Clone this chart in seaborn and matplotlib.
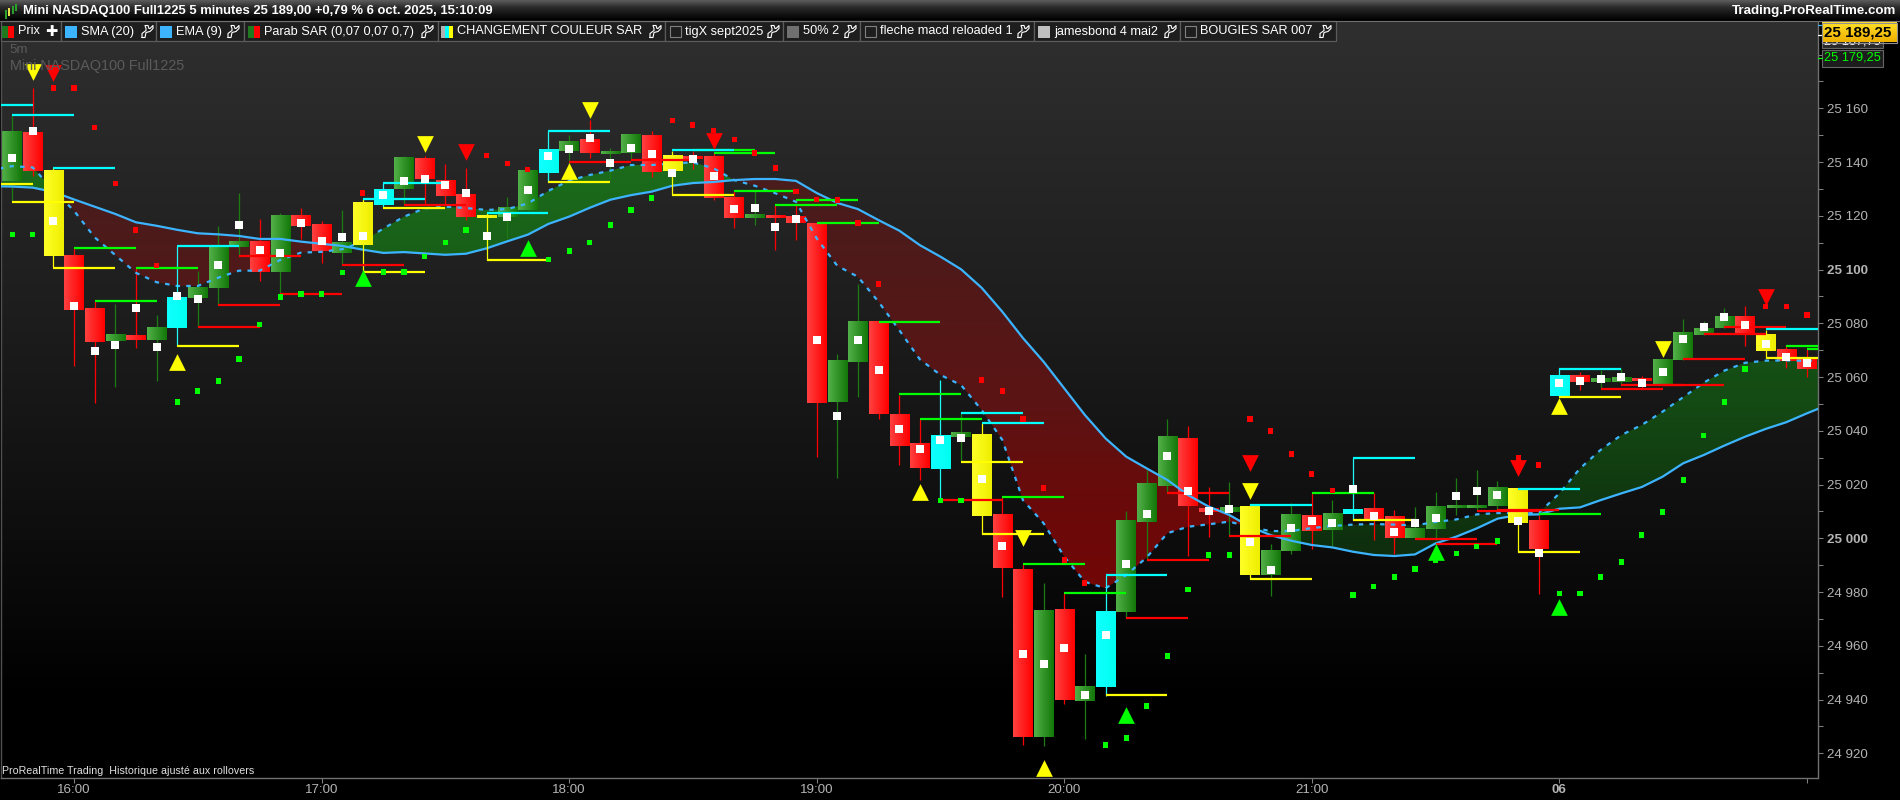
import numpy as np
import pandas as pd
import matplotlib
matplotlib.use("Agg")
import matplotlib.pyplot as plt
import seaborn as sns
from matplotlib.colors import LinearSegmentedColormap, to_rgb
from matplotlib.path import Path
from matplotlib.patches import Rectangle
from matplotlib.ticker import FixedLocator, FixedFormatter

# ---------- data (prices; x = 5-minute bars, 0 = 16:00) ----------
first_bar = -3
kinds = list("gry" "rrgrgcgggr" "grrgycgrrr" "yggcgrggry" "rrrgrrrggr"
             "rrcgyrrgrg" "cgggrrgygg" "rgcrrggggg" "yrcrggrggg" "gryrr")
body_top = [25151.2, 25151.2, 25137.05,
    25105.3, 25085.3, 25075.65, 25075.65, 25078.6, 25089.8, 25093.4, 25108.8, 25110.3, 25110.3,
    25119.95, 25119.95, 25116.6, 25109.9, 25125.15, 25130.0, 25141.9, 25141.15, 25133.3, 25127.75,
    25120.3, 25122.9, 25136.7, 25144.75, 25147.8, 25148.2, 25143.9, 25150.05, 25150.05, 25142.6,
    25141.9, 25142.25, 25126.65, 25120.65, 25119.95, 25119.55, 25117.3, 25066.0, 25080.85, 25080.5,
    25046.25, 25035.1, 25038.3, 25039.55, 25038.8, 25009.05, 24988.6, 24973.3, 24973.7, 24944.8,
    24972.9, 25006.45, 25020.2, 25038.05, 25037.3, 25011.25, 25011.65, 25012.0, 24995.65, 25008.65,
    25008.3, 25009.4, 25010.9, 25010.9, 25008.0, 25003.45, 25011.65, 25011.9, 25012.0, 25018.7,
    25018.35, 25006.45, 25060.4, 25060.75, 25059.3, 25060.0, 25059.65, 25066.35, 25076.75, 25077.9,
    25082.35, 25082.7, 25076.0, 25070.45, 25066.35]
body_bot = [25132.95, 25136.7, 25105.2,
    25085.0, 25073.0, 25073.4, 25073.8, 25073.8, 25078.35, 25089.4, 25093.1, 25108.4, 25099.1,
    25099.1, 25116.2, 25106.9, 25106.15, 25109.15, 25124.05, 25130.0, 25133.7, 25127.4, 25119.55,
    25119.35, 25119.55, 25122.15, 25136.0, 25144.1, 25143.35, 25143.15, 25143.35, 25136.3, 25136.7,
    25141.15, 25126.65, 25119.2, 25119.2, 25119.2, 25117.3, 25050.35, 25050.7, 25065.6, 25046.25,
    25034.35, 25026.15, 25025.9, 25037.7, 25008.3, 24989.0, 24926.1, 24926.1, 24939.85, 24939.45,
    24944.8, 24972.55, 25006.05, 25019.5, 25012.0, 25009.8, 25009.8, 24986.35, 24986.35, 24995.25,
    25002.7, 25003.1, 25009.05, 25006.8, 25000.1, 25000.1, 25003.45, 25011.15, 25011.25, 25012.0,
    25005.6, 24996.0, 25052.95, 25058.15, 25058.15, 25058.15, 25058.55, 25057.0, 25066.35, 25075.65,
    25078.25, 25076.4, 25069.7, 25066.0, 25063.0]
wick_high = [25157.5, 25167.55, 25137.8,
    25108.0, 25088.4, 25087.2, 25100.7, 25083.1, 25108.8, 25099.45, 25116.2, 25128.4, 25118.8,
    25120.9, 25122.9, 25118.1, 25122.15, 25126.35, 25132.3, 25142.3, 25142.3, 25139.3, 25137.8,
    25121.05, 25127.0, 25136.7, 25151.65, 25150.05, 25155.65, 25145.1, 25150.05, 25151.55, 25144.2,
    25144.2, 25143.75, 25129.2, 25129.2, 25124.05, 25124.05, 25117.3, 25068.6, 25094.6, 25080.5,
    25053.3, 25044.4, 25058.9, 25046.6, 25042.9, 25015.35, 24990.45, 24983.3, 24979.6, 24957.1,
    24986.35, 25010.2, 25025.4, 25044.4, 25041.8, 25019.1, 25021.0, 25012.75, 24997.9, 25013.15,
    25016.9, 25014.25, 25029.85, 25016.9, 25010.55, 25011.65, 25017.2, 25022.4, 25025.4, 25021.3,
    25018.7, 25008.65, 25063.35, 25061.9, 25062.6, 25063.35, 25060.4, 25066.35, 25081.6, 25080.85,
    25085.7, 25086.4, 25077.5, 25071.9, 25070.45]
wick_low = [25125.25, 25134.9, 25100.95,
    25064.2, 25050.45, 25056.4, 25070.9, 25058.5, 25071.6, 25078.75, 25086.8, 25105.05, 25095.75,
    25090.9, 25111.4, 25102.45, 25101.8, 25099.0, 25123.15, 25124.05, 25124.05, 25124.05, 25118.4,
    25103.55, 25111.6, 25122.15, 25132.7, 25138.15, 25141.6, 25133.7, 25140.7, 25134.45, 25127.75,
    25137.4, 25125.9, 25115.45, 25116.6, 25107.3, 25111.0, 25030.25, 25022.4, 25052.6, 25044.4,
    25027.3, 25021.7, 25014.25, 25028.8, 25001.6, 24978.2, 24923.1, 24922.7, 24938.35, 24925.3,
    24941.45, 24970.3, 24992.0, 25016.9, 24993.4, 25000.5, 25000.85, 24984.85, 24978.55, 24994.15,
    24996.0, 24997.1, 25006.8, 24999.35, 24994.15, 25000.1, 24999.35, 25008.65, 25010.55, 25010.55,
    24994.9, 24979.3, 25052.7, 25055.2, 25055.65, 25057.0, 25055.9, 25057.0, 25066.35, 25075.65,
    25078.25, 25071.6, 25067.1, 25063.35, 25060.0]
white_marks = [25141.4, 25151.45, 25117.9,
    25086.3, 25069.6, 25071.8, 25085.6, 25071.1, 25090.05, 25088.9, 25101.6, 25116.5, 25107.15,
    25106.05, 25117.2, 25110.5, 25112.0, 25112.4, 25127.6, 25132.85, 25133.7, 25131.35, 25128.4,
    25112.4, 25119.45, 25129.5, 25142.4, 25144.75, 25148.85, 25139.6, 25145.1, 25142.9, 25136.0,
    25141.0, 25134.7, 25122.4, 25122.8, 25115.7, 25118.65, 25073.7, 25045.55, 25073.7, 25062.5,
    25040.55, 25033.1, 25036.45, 25037.2, 25022.0, 24997.0, 24956.8, 24953.1, 24959.0, 24941.6,
    24963.9, 24990.3, 25008.95, 25030.5, 25017.5, 25010.05, 25010.8, 24998.5, 24988.1, 25003.7,
    25006.3, 25005.6, 25018.35, 25008.3, 25002.2, 25005.6, 25007.45, 25015.6, 25017.5, 25016.0,
    25006.3, 24994.4, 25057.7, 25058.4, 25059.15, 25059.9, 25057.7, 25061.75, 25074.0, 25078.5,
    25082.25, 25079.4, 25072.2, 25067.35, 25065.15]

# moving averages, bars -4 .. 85
sma_values = [25131.0, 25130.9, 25130.5, 25128.9,
    25126.1, 25123.4, 25120.7, 25117.6, 25116.3, 25114.8, 25113.5, 25113.1, 25112.5, 25111.4,
    25111.4, 25110.4, 25109.6, 25108.8, 25107.4, 25106.2, 25106.5, 25106.0, 25105.5, 25105.9,
    25107.9, 25110.5, 25113.0, 25117.0, 25119.7, 25123.0, 25126.0, 25127.7, 25129.0, 25131.2,
    25132.2, 25132.6, 25133.3, 25133.7, 25133.7, 25133.0, 25128.5, 25124.8, 25122.5, 25118.4,
    25114.5, 25109.1, 25104.8, 25100.1, 25093.2, 25084.3, 25074.5, 25065.7, 25055.8, 25045.9,
    25037.2, 25030.4, 25026.0, 25021.7, 25016.1, 25011.8, 25008.7, 25004.3, 25001.2, 24999.1,
    24997.5, 24996.6, 24995.0, 24993.8, 24993.4, 24994.0, 24998.1, 25000.6, 25003.7, 25007.3,
    25008.7, 25008.9, 25011.0, 25011.5, 25014.2, 25016.7, 25019.1, 25022.9, 25027.9, 25031.0,
    25034.5, 25037.8, 25040.7, 25043.2, 25046.5, 25049.6]
ema_values = [25137.0, 25138.5, 25138.0, 25129.6,
    25121.9, 25112.0, 25105.4, 25098.8, 25095.3, 25093.9, 25093.9, 25097.0, 25099.6, 25099.6,
    25103.6, 25106.3, 25106.6, 25107.6, 25110.4, 25115.3, 25119.7, 25122.8, 25123.4, 25122.9,
    25122.2, 25122.5, 25124.6, 25129.3, 25133.1, 25135.2, 25136.8, 25138.9, 25138.9, 25139.5,
    25139.9, 25137.7, 25133.3, 25131.2, 25128.4, 25125.2, 25111.6, 25101.4, 25097.3, 25088.0,
    25077.5, 25066.6, 25060.8, 25057.0, 25047.7, 25036.6, 25014.2, 25005.6, 24993.2, 24983.8,
    24981.4, 24986.3, 24992.9, 25001.9, 25004.3, 25005.2, 25006.2, 25004.2, 25002.7, 25002.7,
    25003.8, 25004.6, 25005.1, 25005.3, 25005.1, 25004.8, 25006.1, 25007.0, 25008.9, 25009.4,
    25009.4, 25009.4, 25016.7, 25026.0, 25032.9, 25038.4, 25042.2, 25047.1, 25052.5, 25057.9,
    25062.4, 25065.3, 25066.1, 25066.2, 25066.0, 25066.0]

# Parabolic SAR dots
sar_red_bars = [-1, 0, 1, 2, 3, 4, 14, 20, 21, 22, 29, 30, 31, 32, 33, 34, 35, 36, 37, 38, 39,
                44, 45, 46, 47, 48, 49, 57, 58, 59, 60, 61, 70, 71, 82, 83, 84]
sar_red_vals = [25167.6, 25167.6, 25153.0, 25131.9, 25114.7, 25101.4, 25128.5, 25142.3, 25139.6,
                25137.2, 25155.6, 25153.8, 25151.9, 25148.3, 25143.4, 25137.8, 25129.2, 25126.0,
                25125.9, 25117.3, 25094.6, 25058.9, 25054.8, 25044.4, 25018.7, 24991.9, 24983.4,
                25044.4, 25039.9, 25031.4, 25023.9, 25017.7, 25029.9, 25027.3, 25086.4, 25086.4,
                25083.1]
sar_green_bars = [-3, -2, 5, 6, 7, 8, 9, 10, 11, 12, 13, 15, 16, 17, 18, 19, 23, 24, 25, 26, 27, 28,
                  42, 43, 50, 51, 52, 53, 54, 55, 56, 62, 63, 64, 65, 66, 67, 68, 69,
                  72, 73, 74, 75, 76, 77, 78, 79, 80, 81]
sar_green_vals = [25113.2, 25113.2, 25050.7, 25054.8, 25058.5, 25066.7, 25079.7, 25089.8, 25090.9,
                  25090.9, 25098.8, 25099.1, 25099.1, 25105.0, 25110.2, 25114.7, 25103.6, 25106.9,
                  25110.2, 25116.6, 25122.2, 25126.6, 25014.2, 25014.2, 24923.1, 24925.7, 24937.6,
                  24956.2, 24980.8, 24993.8, 24993.8, 24978.9, 24982.2, 24985.6, 24988.6, 24991.6,
                  24994.2, 24996.8, 24999.0, 24979.6, 24979.6, 24985.6, 24991.2, 25001.2, 25009.8,
                  25021.7, 25038.4, 25050.7, 25063.0]

# three-bar level lines: starting bar and price
cyan_bars = [-5, -3, -1, 5, 14, 15, 20, 23, 29, 43, 44, 50, 57, 62, 70, 72, 82]
cyan_levels = [25161.3, 25157.5, 25137.8, 25108.8, 25126.3, 25132.2, 25121.0, 25151.6, 25144.5,
               25046.6, 25042.9, 24986.3, 25012.4, 25029.9, 25018.3, 25063.0, 25077.9]
yellow_bars = [-5, -3, -1, 5, 14, 15, 20, 23, 29, 43, 44, 50, 57, 62, 70, 72, 82]
yellow_levels = [25131.8, 25125.1, 25100.6, 25071.6, 25099.1, 25122.9, 25103.6, 25132.6, 25127.7,
                 25028.4, 25001.6, 24941.7, 24984.9, 25006.8, 24994.9, 25052.6, 25067.1]
green_bars = [0, 1, 3, 30, 31, 32, 34, 35, 36, 39, 40, 41, 45, 46, 48, 60, 71, 83, 84]
green_levels = [25108.0, 25088.3, 25100.6, 25144.5, 25143.4, 25129.2, 25124.0, 25125.9, 25117.3,
                25080.5, 25053.7, 25044.4, 25015.4, 24990.4, 24979.6, 25016.9, 25009.0, 25071.6,
                25070.4]
red_bars = [6, 7, 8, 10, 13, 16, 24, 27, 42, 51, 52, 53, 56, 65, 66, 68, 69, 74, 75, 77, 78, 79, 80]
red_levels = [25078.6, 25086.8, 25105.0, 25090.9, 25101.8, 25124.0, 25140.0, 25140.8, 25014.2,
              24970.3, 24991.9, 25016.9, 25000.8, 24999.7, 24997.9, 25010.3, 25010.5, 25055.6,
              25057.0, 25057.0, 25066.7, 25076.0, 25078.6]

# arrows
down_yellow_bars = [-2, 17, 25, 46, 57, 77]
down_yellow_vals = [25173.6, 25146.7, 25159.4, 25000.1, 25017.7, 25070.4]
down_red_bars = [-1, 19, 31, 57, 70, 82]
down_red_vals = [25173.1, 25143.9, 25147.9, 25028.1, 25026.3, 25089.9]
up_yellow_bars = [5, 24, 41, 47, 72]
up_yellow_vals = [25065.6, 25136.7, 25017.2, 24914.5, 25049.2]
up_green_bars = [14, 22, 51, 66, 72]
up_green_vals = [25096.9, 25108.0, 24934.2, 24994.9, 24974.4]

time_ticks = [0, 12, 24, 36, 48, 60, 72, 84]
time_labels = ["16:00", "17:00", "18:00", "19:00", "20:00", "21:00", "06", ""]
price_ticks = list(range(24920, 25181, 20))
minor_price_ticks = list(range(24930, 25181, 20))

header_text = "Mini NASDAQ100 Full1225 5 minutes 25 189,00 +0,79 % 6 oct. 2025, 15:10:09"
legend_items = ["Prix", "SMA (20)", "EMA (9)", "Parab SAR (0,07 0,07 0,7)", "CHANGEMENT COULEUR SAR",
                "tigX sept2025", "50% 2", "fleche macd reloaded 1", "jamesbond 4 mai2", "BOUGIES SAR 007"]

# ---------- styling ----------
sns.set_theme(style="dark")
plt.rcParams["font.family"] = ["Liberation Sans", "DejaVu Sans"]
BLUE = "#3cb4ff"
TXT = "#b4b4b4"
W, H = 1900, 800
fig = plt.figure(figsize=(19, 8), dpi=100, facecolor="black")
L, R, T, B = 1.0, 1817.5, 21.0, 778.0
ax = fig.add_axes([L / W, 1 - B / H, (R - L) / W, (B - T) / H])
px_per_bar = 20.63
xlim = ((L - 74) / px_per_bar, (R - 74) / px_per_bar)
ylim = (24910.8, 25192.5)

# background gradient
bg_cmap = LinearSegmentedColormap.from_list("bg", [
    (0.0, "#000000"), (0.10, "#000000"), (0.18, "#050505"), (0.365, "#101010"),
    (0.63, "#1e1e1e"), (1.0, "#2f2f2f")])
ax.imshow(np.linspace(0, 1, 256)[:, None], origin="lower", extent=(0, 1, 0, 1), transform=ax.transAxes,
          cmap=bg_cmap, aspect="auto", zorder=0)

bars = np.arange(first_bar, first_bar + len(kinds))
avg_bars = np.arange(-4, 86)
sma = np.array(sma_values)
ema = np.array(ema_values)


def gradient_fill(where, stops_price, stops_color):
    poly = ax.fill_between(avg_bars, sma, ema, where=where, interpolate=True, color="none", lw=0)
    path = Path.make_compound_path(*poly.get_paths())
    grid = np.linspace(ylim[0], ylim[1], 400)
    rgb = np.array([to_rgb(c) for c in stops_color])
    img = np.stack([np.interp(grid, stops_price, rgb[:, k]) for k in range(3)], axis=1)[:, None, :]
    im = ax.imshow(img, origin="lower", extent=(xlim[0], xlim[1], ylim[0], ylim[1]), aspect="auto", zorder=1)
    im.set_clip_path(path, transform=ax.transData)


gradient_fill(ema >= sma, [24996, 25051, 25144], ["#0e2e0e", "#144a14", "#1c6e1c"])
gradient_fill(ema <= sma, [24981, 25014, 25051, 25126], ["#720606", "#6a0a0a", "#5c1414", "#4a1c1c"])

body_cmaps = {
    "g": LinearSegmentedColormap.from_list("g", ["#52b048", "#127808"]),
    "r": LinearSegmentedColormap.from_list("r", ["#ff4040", "#ff0000"]),
    "y": LinearSegmentedColormap.from_list("y", ["#ffff28", "#eeee00"]),
    "c": LinearSegmentedColormap.from_list("c", ["#10ffff", "#00fff0"]),
}
wick_colors = {"g": "#1c7c12", "r": "#ff0000", "y": "#ffff00", "c": "#20f8f8"}
ramp = np.linspace(0, 1, 32)[None, :]
half = 0.47
for n, k, top, bot, hi, lo in zip(bars, kinds, body_top, body_bot, wick_high, wick_low):
    z = 4 if k in "yc" else 2
    ax.vlines(n, lo, hi, color=wick_colors[k], lw=0.9, zorder=z)
    ax.imshow(ramp, extent=(n - half, n + half, bot, top), cmap=body_cmaps[k], aspect="auto", zorder=z + 0.1)

# averages
avg_df = pd.DataFrame({"bar": avg_bars, "sma": sma, "ema": ema})
sns.lineplot(data=avg_df, x="bar", y="sma", color=BLUE, lw=1.6, ax=ax, zorder=3, errorbar=None)
sns.lineplot(data=avg_df, x="bar", y="ema", color=BLUE, lw=1.6, ax=ax, zorder=3, errorbar=None,
             linestyle=(0, (2.0, 2.8)))

# level lines
for xs, ys, col in [(green_bars, green_levels, "#00ff00"), (red_bars, red_levels, "#ff0000"),
                    (cyan_bars, cyan_levels, "#00ffff"), (yellow_bars, yellow_levels, "#ffff00")]:
    ax.hlines(ys, np.array(xs), np.array(xs) + 3, color=col, lw=1.6, zorder=5)

# SAR dots
sar_df = pd.DataFrame({"bar": sar_red_bars + sar_green_bars, "price": sar_red_vals + sar_green_vals,
                       "side": ["r"] * len(sar_red_bars) + ["g"] * len(sar_green_bars)})
sns.scatterplot(data=sar_df, x="bar", y="price", hue="side", palette={"r": "#ff0000", "g": "#00ff00"},
                marker="s", s=14, linewidth=0, legend=False, ax=ax, zorder=5)

# arrows
for xs, ys, col, mk in [(down_yellow_bars, down_yellow_vals, "#ffff00", "v"), (down_red_bars, down_red_vals, "#ff0000", "v"),
                        (up_yellow_bars, up_yellow_vals, "#ffff00", "^"), (up_green_bars, up_green_vals, "#00ff00", "^")]:
    sns.scatterplot(x=xs, y=ys, color=col, marker=mk, s=145, linewidth=0, ax=ax, zorder=6, legend=False)

# white marks
sns.scatterplot(x=bars, y=white_marks, color="white", marker="s", s=30, linewidth=0, ax=ax, zorder=7, legend=False)

# axes
ax.set_xlim(*xlim)
ax.set_ylim(*ylim)
ax.set_xlabel("")
ax.set_ylabel("")
ax.grid(False)
ax.set_facecolor("black")
ax.yaxis.tick_right()
ax.yaxis.set_major_locator(FixedLocator(price_ticks))
ax.yaxis.set_major_formatter(FixedFormatter(
    ["" if v == 25180 else f"{v // 1000} {v % 1000:03d}" for v in price_ticks]))
ax.yaxis.set_minor_locator(FixedLocator(minor_price_ticks))
ax.xaxis.set_major_locator(FixedLocator(time_ticks))
ax.xaxis.set_major_formatter(FixedFormatter(time_labels))
ax.tick_params(axis="both", which="both", color="#808080", labelcolor=TXT, labelsize=9.6, length=3.6, width=0.75,
               bottom=True, right=True, left=False, top=False)
ax.tick_params(axis="y", which="major", pad=3)
ax.tick_params(axis="x", which="major", pad=1)
for lab in ax.get_yticklabels():
    if lab.get_text() in ("25 100", "25 000"):
        lab.set_fontweight("bold")
for lab in ax.get_xticklabels():
    if lab.get_text() == "06":
        lab.set_fontweight("bold")
for name, sp in ax.spines.items():
    sp.set_visible(name in ("right", "bottom", "left"))
    sp.set_color("#707070" if name != "left" else "#505050")
    sp.set_linewidth(1.0)

# ---------- chrome drawn on a pixel overlay ----------
ui = fig.add_axes([0, 0, 1, 1], zorder=10)
ui.set_facecolor("none")
ui.axis("off")
head = LinearSegmentedColormap.from_list("h", ["#5a5a5a", "#2c2c2c", "#141414", "#000000"])
ui.imshow(np.linspace(0, 1, 21)[:, None], extent=(0, W, 21, 0), cmap=head, aspect="auto")
ui.plot([0, W], [21, 21], color="#707070", lw=0.8)

for x, y0, y1, c in [(5, 10, 19, "#2aa02a"), (8, 8, 16, "#e8e050"), (12, 6, 14, "#2aa02a"), (15, 4, 11, "#2aa02a")]:
    ui.add_patch(Rectangle((x, y0), 2, y1 - y0, fc=c, ec="none"))
ui.text(23, 11, header_text, color="white", fontsize=9.35, fontweight="bold", va="center", ha="left")
ui.text(1896, 11, "Trading.ProRealTime.com", color="white", fontsize=9.6, fontweight="bold", va="center", ha="right")

cells = [(1, 61), (61, 156), (156, 244), (244, 437.5), (437.5, 665), (665, 783), (783, 860), (860, 1034), (1034, 1180), (1180, 1335.5)]
swatches = [("#1f7a1f", "#ff0000"), BLUE, BLUE, ("#1f7a1f", "#ff0000"), ("#b0b0b0", "#00ffff", "#ffff00"),
            None, "#707070", None, "#c0c0c0", None]
text_x = [18, 81, 176, 264, 457, 685, 803, 880, 1054, 1200]
wrench_x = [None, 147, 233, 427, 655, 773, 850, 1023, 1170, 1325]
wrench = np.array([(-5, 6), (-2, 6), (-1, 1), (3, 0), (6, -3), (6, -6), (3, -3), (2, -3), (1, -6), (-2, -6),
                   (-1, -3), (-1, -1), (-5, 2), (-5, 6)], float)
for (x0, x1), sw, tx, wx, label in zip(cells, swatches, text_x, wrench_x, legend_items):
    ui.add_patch(Rectangle((x0, 21), x1 - x0, 20, fc="#1e1e1e", ec="#5c5c5c", lw=0.9))
    if sw is None:
        ui.add_patch(Rectangle((tx - 15.5, 26), 11, 11, fc="none", ec="#808080", lw=0.8))
    else:
        cols = (sw,) if isinstance(sw, str) else sw
        wd = 12 / len(cols)
        for i, c in enumerate(cols):
            ui.add_patch(Rectangle((tx - 16 + i * wd, 25.5), wd, 12, fc=c, ec="none"))
    ui.text(tx, 31.5, label, color="white", fontsize=9.2, va="center", ha="left")
    if wx is not None:
        ui.plot(wrench[:, 0] + wx, wrench[:, 1] + 31.5, color="white", lw=0.8)
ui.text(51, 31.5, "\u271a", color="white", fontsize=10.5, va="center", ha="center", family=["DejaVu Sans"])

ui.text(9, 50, "5m", color="#5a5a5a", fontsize=9.6, va="center")
ui.text(10, 66, "Mini NASDAQ100 Full1225", color="#5a5a5a", fontsize=10.4, va="center")
ui.text(2, 771, "ProRealTime Trading  Historique ajusté aux rollovers", color="#e0e0e0", fontsize=7.7, va="center")

# price tags
ui.plot([R, 1822], [25, 25], color=BLUE, lw=0.9)
ui.plot([R, 1822], [35, 35], color="white", lw=0.9)
ui.plot([R, 1822], [57.5, 57.5], color="#00ff00", lw=0.9)
ui.add_patch(Rectangle((1822, 32), 61, 16, fc="#2a2a2a", ec="#666666", lw=0.8))
ui.text(1824, 41, "25 187,75", color="white", fontsize=9.2, va="center")
ui.add_patch(Rectangle((1822, 50), 61, 16.5, fc="#1c1c1c", ec="#666666", lw=0.8))
ui.text(1824, 58, "25 179,25", color="#00ff00", fontsize=9.2, va="center")
tag = LinearSegmentedColormap.from_list("t", ["#ffe028", "#f0b000"])
ui.imshow(np.linspace(0, 1, 20)[:, None], extent=(1822, 1897, 42.5, 22.5), cmap=tag, aspect="auto", zorder=5)
ui.add_patch(Rectangle((1822, 22.5), 75, 20, fc="none", ec="#909090", lw=0.8, zorder=6))
ui.text(1824.5, 32.5, "25 189,25", color="black", fontsize=10.9, fontweight="bold", va="center", zorder=7)

ui.set_xlim(0, W)
ui.set_ylim(H, 0)
fig.savefig("out.png", dpi=100, facecolor="black")
